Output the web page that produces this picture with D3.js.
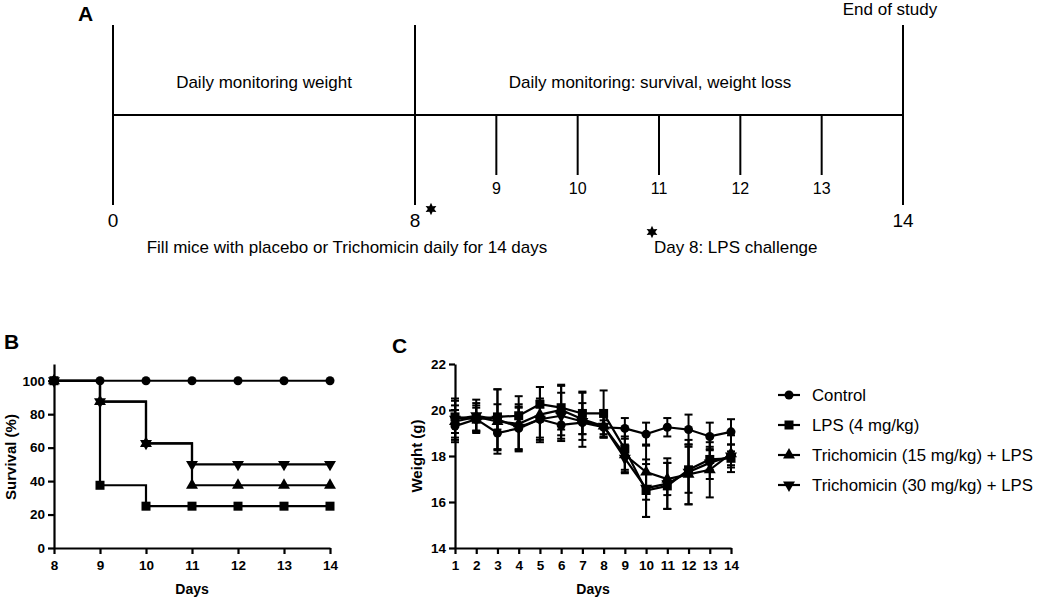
<!DOCTYPE html>
<html lang="en">
<head>
<meta charset="utf-8">
<title>Trichomicin LPS study</title>
<script src="https://d3js.org/d3.v7.min.js"></script>
<style>
  body { margin: 0; background: #fff; }
  text { font-family: Arial, "Liberation Sans", sans-serif; fill: #000; }
  .axis path, .axis line { stroke: #000; stroke-width: 2.2; }
  .axis text { font-size: 13.5px; font-weight: bold; }
</style>
</head>
<body>
<svg id="fig" width="1038" height="600"></svg>
<script>
// ---- panel A: timeline ----
const tlMajor = [0, 8, 14];
const tlMinor = [9, 10, 11, 12, 13];

// ---- panel B: survival (%) ----
const survDays = [8, 9, 10, 11, 12, 13, 14];
const survControl = [100, 100, 100, 100, 100, 100, 100];
const survLPS = [100, 37.5, 25, 25, 25, 25, 25];
const survTri15 = [100, 87.5, 62.5, 37.5, 37.5, 37.5, 37.5];
const survTri30 = [100, 87.5, 62.5, 50, 50, 50, 50];

// ---- panel C: weight (g), mean and SD ----
const wDays = [1, 2, 3, 4, 5, 6, 7, 8, 9, 10, 11, 12, 13, 14];
const wControl   = [19.3, 19.6, 19.0, 19.2, 19.6, 19.35, 19.45, 19.25, 19.2, 18.95, 19.25, 19.15, 18.85, 19.05];
const wControlSD = [0.7, 0.5, 0.75, 0.9, 0.9, 0.7, 0.5, 0.3, 0.45, 0.5, 0.4, 0.65, 0.6, 0.55];
const wLPS   = [19.7, 19.6, 19.7, 19.75, 20.25, 20.1, 19.85, 19.85, 18.3, 16.5, 16.7, 17.4, 17.85, 17.9];
const wLPSSD = [0.7, 0.6, 0.55, 0.4, 0.75, 0.95, 0.9, 1.0, 0.9, 1.15, 1.0, 1.0, 0.45, 0.3];
const wTri15   = [19.5, 19.7, 19.5, 19.4, 19.8, 20.0, 19.6, 19.3, 18.05, 17.3, 17.0, 17.2, 17.4, 18.1];
const wTri15SD = [0.7, 0.6, 1.4, 1.2, 1.2, 1.1, 1.2, 0.5, 0.8, 1.2, 0.7, 1.3, 1.2, 0.8];
const wTri30   = [19.6, 19.75, 19.6, 19.25, 19.6, 19.75, 19.5, 19.3, 17.9, 16.6, 16.8, 17.3, 17.7, 18.0];
const wTri30SD = [0.9, 0.7, 1.3, 1.0, 0.8, 1.0, 0.8, 0.5, 0.6, 1.25, 1.1, 1.4, 0.7, 0.5];

const groups = ["Control", "LPS (4 mg/kg)", "Trichomicin (15 mg/kg) + LPS", "Trichomicin (30 mg/kg) + LPS"];
const shapes = ["circle", "square", "up", "down"];

const svg = d3.select("#fig");

function marker(g, shape, x, y) {
  if (shape === "circle") {
    g.append("circle").attr("cx", x).attr("cy", y).attr("r", 4.5).attr("fill", "#000");
  } else if (shape === "square") {
    g.append("rect").attr("x", x - 4.5).attr("y", y - 4.5).attr("width", 9).attr("height", 9).attr("fill", "#000");
  } else {
    g.append("path")
      .attr("d", d3.symbol(d3.symbolTriangle, 62)())
      .attr("transform", `translate(${x},${y})` + (shape === "down" ? " rotate(180)" : ""))
      .attr("fill", "#000");
  }
}

// ================= A =================
const A = svg.append("g");
const tx = d3.scaleLinear().domain([0, 8, 14]).range([113, 415, 903]);
const lineY = 115;

A.append("text").attr("x", 78).attr("y", 21).text("A")
  .style("font-size", "21px").style("font-weight", "bold");

A.append("line").attr("x1", tx(0)).attr("x2", tx(14)).attr("y1", lineY).attr("y2", lineY)
  .attr("stroke", "#000").attr("stroke-width", 2);

A.selectAll("line.major").data(tlMajor).enter().append("line")
  .attr("class", "major")
  .attr("x1", d => tx(d)).attr("x2", d => tx(d))
  .attr("y1", 25).attr("y2", 205)
  .attr("stroke", "#000").attr("stroke-width", 2);

A.selectAll("line.minor").data(tlMinor).enter().append("line")
  .attr("class", "minor")
  .attr("x1", d => tx(d)).attr("x2", d => tx(d))
  .attr("y1", lineY).attr("y2", 175)
  .attr("stroke", "#000").attr("stroke-width", 2);

A.selectAll("text.minor").data(tlMinor).enter().append("text")
  .attr("class", "minor")
  .attr("x", d => tx(d)).attr("y", 194)
  .attr("text-anchor", "middle")
  .style("font-size", "16px")
  .text(d => d);

A.selectAll("text.major").data(tlMajor).enter().append("text")
  .attr("class", "major")
  .attr("x", d => tx(d)).attr("y", 227)
  .attr("text-anchor", "middle")
  .style("font-size", "19px")
  .text(d => d);

A.append("text").attr("x", 264).attr("y", 88).attr("text-anchor", "middle")
  .style("font-size", "17px").text("Daily monitoring weight");
A.append("text").attr("x", 650).attr("y", 88).attr("text-anchor", "middle")
  .style("font-size", "17px").text("Daily monitoring: survival, weight loss");
A.append("text").attr("x", 890).attr("y", 15).attr("text-anchor", "middle")
  .style("font-size", "17px").text("End of study");
A.append("text").attr("x", 347).attr("y", 253).attr("text-anchor", "middle")
  .style("font-size", "17px").text("Fill mice with placebo or Trichomicin daily for 14 days");
A.append("text").attr("x", 654).attr("y", 253)
  .style("font-size", "17px").text("Day 8: LPS challenge");

// six-point stars
const starPts = d3.range(12).map(i => [i * Math.PI / 6, i % 2 ? 3.2 : 6.2]);
const starPath = d3.lineRadial().curve(d3.curveLinearClosed)(starPts);
[[431, 209], [652, 232]].forEach(p => {
  A.append("path").attr("d", starPath).attr("transform", `translate(${p[0]},${p[1]})`).attr("fill", "#000");
});

// ================= B =================
const B = svg.append("g");
const bx = d3.scaleLinear().domain([8, 14]).range([54, 330]);
const by = d3.scaleLinear().domain([0, 110]).range([548, 364]);

B.append("text").attr("x", 4).attr("y", 349).text("B")
  .style("font-size", "21px").style("font-weight", "bold");

B.append("g").attr("class", "axis").attr("transform", "translate(0,548)")
  .call(d3.axisBottom(bx).tickValues(survDays).tickFormat(d3.format("d")).tickSize(6).tickSizeOuter(0))
  .selectAll("text").attr("dy", "0.95em");
B.append("g").attr("class", "axis").attr("transform", "translate(54,0)")
  .call(d3.axisLeft(by).tickValues([0, 20, 40, 60, 80, 100]).tickSize(6).tickSizeOuter(0));

B.append("text").attr("x", bx(11)).attr("y", 594).attr("text-anchor", "middle")
  .style("font-size", "14px").style("font-weight", "bold").text("Days");
B.append("text").attr("transform", "translate(16,457) rotate(-90)").attr("text-anchor", "middle")
  .style("font-size", "15px").style("font-weight", "bold").text("Survival (%)");

const survSeries = [survControl, survLPS, survTri15, survTri30];
const stepLine = d3.line().curve(d3.curveStepAfter).x((d, i) => bx(survDays[i])).y(d => by(d));
survSeries.forEach((s, k) => {
  B.append("path").attr("d", stepLine(s)).attr("fill", "none")
    .attr("stroke", "#000").attr("stroke-width", 2.2);
});
survSeries.forEach((s, k) => {
  s.forEach((v, i) => marker(B, shapes[k], bx(survDays[i]), by(v)));
});

// ================= C =================
const C = svg.append("g");
const cx = d3.scaleLinear().domain([1, 14]).range([455, 731]);
const cy = d3.scaleLinear().domain([14, 22]).range([548, 364]);

C.append("text").attr("x", 392).attr("y", 353).text("C")
  .style("font-size", "21px").style("font-weight", "bold");

C.append("g").attr("class", "axis").attr("transform", "translate(0,548)")
  .call(d3.axisBottom(cx).tickValues(wDays).tickFormat(d3.format("d")).tickSize(6).tickSizeOuter(0))
  .selectAll("text").attr("dy", "0.95em");
C.append("g").attr("class", "axis").attr("transform", "translate(455,0)")
  .call(d3.axisLeft(cy).tickValues([14, 16, 18, 20, 22]).tickSize(6).tickSizeOuter(0));

C.append("text").attr("x", cx(7.5)).attr("y", 594).attr("text-anchor", "middle")
  .style("font-size", "14px").style("font-weight", "bold").text("Days");
C.append("text").attr("transform", "translate(422,456) rotate(-90)").attr("text-anchor", "middle")
  .style("font-size", "15px").style("font-weight", "bold").text("Weight (g)");

const wMeans = [wControl, wLPS, wTri15, wTri30];
const wSDs = [wControlSD, wLPSSD, wTri15SD, wTri30SD];
const wLine = d3.line().x((d, i) => cx(wDays[i])).y(d => cy(d));

wMeans.forEach((m, k) => {
  m.forEach((v, i) => {
    const x = cx(wDays[i]);
    const lo = cy(v - wSDs[k][i]), hi = cy(v + wSDs[k][i]);
    C.append("line").attr("x1", x).attr("x2", x).attr("y1", lo).attr("y2", hi)
      .attr("stroke", "#000").attr("stroke-width", 2);
    [lo, hi].forEach(yy => C.append("line").attr("x1", x - 4).attr("x2", x + 4)
      .attr("y1", yy).attr("y2", yy).attr("stroke", "#000").attr("stroke-width", 2));
  });
});
wMeans.forEach(m => {
  C.append("path").attr("d", wLine(m)).attr("fill", "none")
    .attr("stroke", "#000").attr("stroke-width", 2.2);
});
wMeans.forEach((m, k) => {
  m.forEach((v, i) => marker(C, shapes[k], cx(wDays[i]), cy(v)));
});

// legend
const leg = svg.append("g");
groups.forEach((g, i) => {
  const y = 395 + i * 30;
  leg.append("line").attr("x1", 778).attr("x2", 800).attr("y1", y).attr("y2", y)
    .attr("stroke", "#000").attr("stroke-width", 2.2);
  marker(leg, shapes[i], 789, y);
  leg.append("text").attr("x", 812).attr("y", y + 6).style("font-size", "16.8px").text(g);
});
</script>
</body>
</html>
